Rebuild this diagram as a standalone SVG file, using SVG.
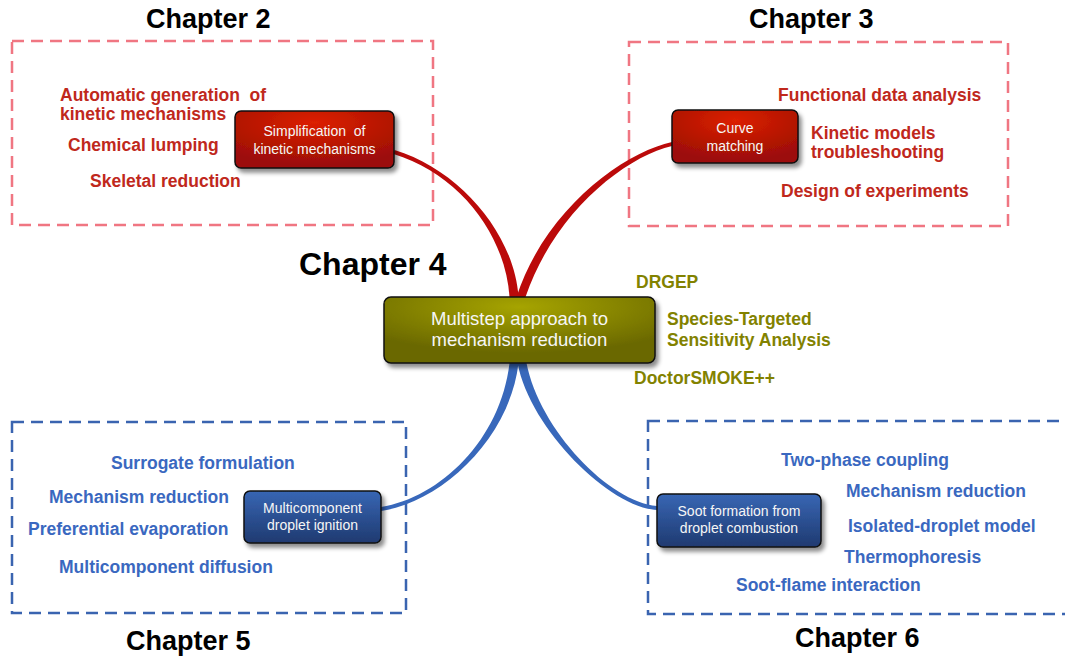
<svg xmlns="http://www.w3.org/2000/svg" width="1065" height="658" viewBox="0 0 1065 658">
<style>
.title{font-family:"Liberation Sans",Arial,sans-serif;font-weight:bold;font-size:27px;fill:#000}
.lbl{font-family:"Liberation Sans",Arial,sans-serif;font-weight:bold;font-size:17.5px}
.red{fill:#c0281c}
.blue{fill:#3a68c0}
.olive{fill:#828200}
.ntext{font-family:"Liberation Sans",Arial,sans-serif;font-size:14px;fill:#f6f6f6;text-anchor:middle}
.boxr{fill:none;stroke:#f07682;stroke-width:2.5;stroke-dasharray:12 7}
.boxb{fill:none;stroke:#3a64b0;stroke-width:2.5;stroke-dasharray:12 7}
.node{stroke:#111;stroke-width:1.5;filter:url(#sh)}
</style>
<defs>
<filter id="sh" x="-10%" y="-20%" width="130%" height="150%">
<feDropShadow dx="3" dy="4" stdDeviation="2" flood-color="#000" flood-opacity="0.45"/>
</filter>
<radialGradient id="gr" cx="0.5" cy="0.2" r="0.75">
<stop offset="0" stop-color="#dc2000"/>
<stop offset="1" stop-color="#9c0e08"/>
</radialGradient>
<radialGradient id="go" cx="0.5" cy="0.15" r="0.7">
<stop offset="0" stop-color="#a6a400"/>
<stop offset="1" stop-color="#6a6800"/>
</radialGradient>
<linearGradient id="gb" x1="0" y1="0" x2="0" y2="1">
<stop offset="0" stop-color="#3866b4"/>
<stop offset="1" stop-color="#1f3a70"/>
</linearGradient>
</defs>
<rect width="1065" height="658" fill="#fff"/>

<g id="boxes">
<rect class="boxr" x="12" y="41" width="421" height="184"/>
<rect class="boxr" x="629" y="42" width="379" height="184"/>
<rect class="boxb" x="12" y="422" width="394" height="191"/>
<rect class="boxb" x="648" y="421" width="430" height="193"/>
</g>

<g id="titles">
<text class="title" x="146" y="28">Chapter 2</text>
<text class="title" x="749" y="28">Chapter 3</text>
<text class="title" x="299" y="275" style="font-size:32px">Chapter 4</text>
<text class="title" x="126" y="650">Chapter 5</text>
<text class="title" x="795" y="647">Chapter 6</text>
</g>

<g id="connectors">
<path d="M394.5,150 C460.5,170 514.5,235 518.5,297 L509.5,297 C505.5,235 459.5,174 393.5,154 Z" fill="#bb0a0a"/>
<path d="M672,142 C625,152 545.5,208 516.5,297 L525.5,297 C554.5,212 625,157 672,146 Z" fill="#bb0a0a"/>
<path d="M518.5,363 C509.5,440 440,502.5 381,511 L381,507 C440,497.5 500.5,440 509.5,363 Z" fill="#3868bb"/>
<path d="M517.5,363 C530.5,430 610,507.5 657,510 L657,506 C610,502.5 539.5,430 526.5,363 Z" fill="#3868bb"/>
</g>

<g id="node-center">
<rect class="node" x="384" y="297" width="271" height="66" rx="7" fill="url(#go)"/>
<text class="ntext" x="519.5" y="325" style="font-size:18.5px">Multistep approach to</text>
<text class="ntext" x="519.5" y="346" style="font-size:18.5px">mechanism reduction</text>
</g>

<g id="node-ch2">
<rect class="node" x="235" y="111" width="159" height="57" rx="6" fill="url(#gr)"/>
<text class="ntext" x="314.5" y="136" xml:space="preserve">Simplification  of</text>
<text class="ntext" x="314.5" y="154">kinetic mechanisms</text>
</g>

<g id="node-ch3">
<rect class="node" x="672" y="110" width="126" height="53" rx="6" fill="url(#gr)"/>
<text class="ntext" x="735" y="133">Curve</text>
<text class="ntext" x="735" y="151">matching</text>
</g>

<g id="node-ch5">
<rect class="node" x="244" y="491" width="137" height="52" rx="6" fill="url(#gb)"/>
<text class="ntext" x="312.5" y="513">Multicomponent</text>
<text class="ntext" x="312.5" y="530">droplet ignition</text>
</g>

<g id="node-ch6">
<rect class="node" x="657" y="494" width="164" height="53" rx="6" fill="url(#gb)"/>
<text class="ntext" x="739" y="516">Soot formation from</text>
<text class="ntext" x="739" y="533">droplet combustion</text>
</g>

<g id="labels-ch2" class="lbl red">
<text x="60" y="101" xml:space="preserve">Automatic generation  of</text>
<text x="60" y="120">kinetic mechanisms</text>
<text x="68" y="151">Chemical lumping</text>
<text x="90" y="187">Skeletal reduction</text>
</g>

<g id="labels-ch3" class="lbl red">
<text x="778" y="101">Functional data analysis</text>
<text x="811" y="139">Kinetic models</text>
<text x="811" y="158">troubleshooting</text>
<text x="781" y="197">Design of experiments</text>
</g>

<g id="labels-ch4" class="lbl olive">
<text x="636" y="288">DRGEP</text>
<text x="667" y="325">Species-Targeted</text>
<text x="667" y="346">Sensitivity Analysis</text>
<text x="634" y="384">DoctorSMOKE++</text>
</g>

<g id="labels-ch5" class="lbl blue">
<text x="111" y="469">Surrogate formulation</text>
<text x="49" y="503">Mechanism reduction</text>
<text x="28" y="535">Preferential evaporation</text>
<text x="59" y="573">Multicomponent diffusion</text>
</g>

<g id="labels-ch6" class="lbl blue">
<text x="781" y="466">Two-phase coupling</text>
<text x="846" y="497">Mechanism reduction</text>
<text x="848" y="532">Isolated-droplet model</text>
<text x="844" y="563">Thermophoresis</text>
<text x="736" y="591">Soot-flame interaction</text>
</g>
</svg>
